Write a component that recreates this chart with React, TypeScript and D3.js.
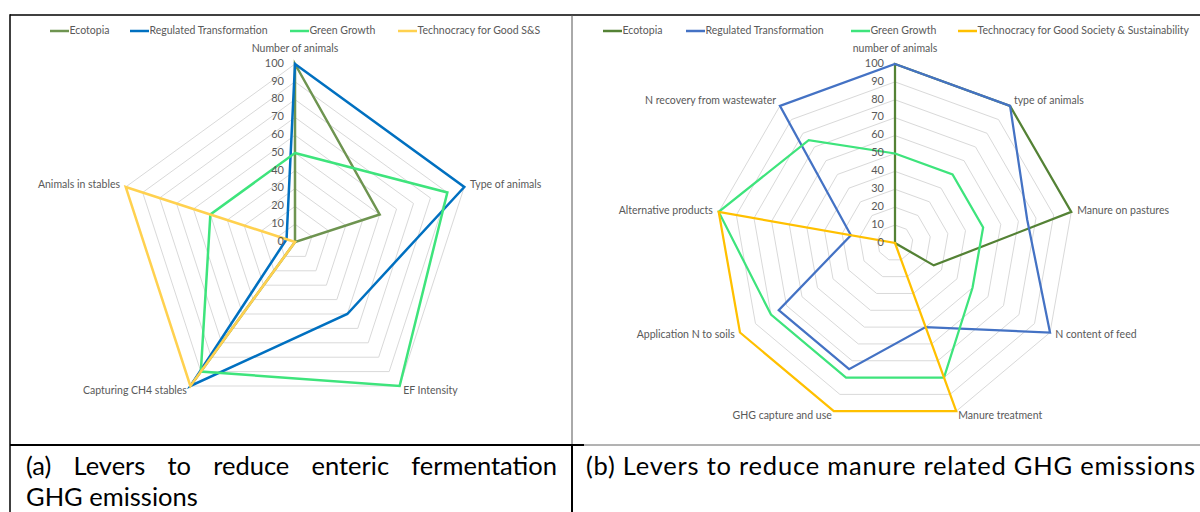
import React, { useLayoutEffect, useRef, useState } from "react";
import * as d3 from "d3";

// ---------- data ----------
const seriesNames = ["Ecotopia", "Regulated Transformation", "Green Growth"];
const techNameA = "Technocracy for Good S&S";
const techNameB = "Technocracy for Good Society & Sustainability";

const categoriesA = [
  "Number of animals",
  "Type of animals",
  "EF Intensity",
  "Capturing CH4 stables",
  "Animals in stables",
];
const ecotopiaA = [100, 50, 0, 100, 0];
const regulatedA = [100, 100, 50, 100, 5];
const greenA = [50, 90, 100, 90, 50];
const technoA = [0, 0, 0, 100, 100];

const categoriesB = [
  "number of animals",
  "type of animals",
  "Manure on pastures",
  "N content of feed",
  "Manure treatment",
  "GHG capture and use",
  "Application N to soils",
  "Alternative products",
  "N recovery from wastewater",
];
const ecotopiaB = [100, 100, 100, 25, 0, 0, 0, 0, 0];
const regulatedB = [100, 100, 75, 100, 50, 75, 75, 25, 100];
const greenB = [50, 50, 50, 50, 80, 80, 80, 100, 75];
const technoB = [0, 0, 0, 0, 100, 100, 100, 100, 0];

const tickValues = [0, 10, 20, 30, 40, 50, 60, 70, 80, 90, 100];

const captionA1 = "(a) Levers to reduce enteric fermentation";
const captionA2 = "GHG emissions";
const captionB = "(b) Levers to reduce manure related GHG emissions";

const FONT = "Lato, 'Noto Sans', sans-serif";
const TEXT = "#595959";
const GRID = "#D9D9D9";

type Series = { name: string; values: number[]; color: string; width: number };

function Radar(props: {
  cx: number;
  cy: number;
  R: number;
  categories: string[];
  series: Series[];
  legendX: number[];
  legendY: number;
}) {
  const { cx, cy, R, categories, series, legendX, legendY } = props;
  const n = categories.length;
  const r = d3.scaleLinear().domain([0, 100]).range([0, R]);
  const angle = d3
    .scaleLinear()
    .domain([0, n])
    .range([0, 2 * Math.PI]);
  const line = d3
    .lineRadial<number>()
    .angle((_, i) => angle(i))
    .radius((v) => r(v))
    .curve(d3.curveLinearClosed);

  return (
    <g fontFamily={FONT}>
      <g transform={`translate(${cx},${cy})`}>
        {tickValues.slice(1).map((t) => (
          <path
            key={t}
            d={line(categories.map(() => t)) || ""}
            fill="none"
            stroke={GRID}
            strokeWidth={1}
          />
        ))}
        {series.map((s) => (
          <path
            key={s.name}
            d={line(s.values) || ""}
            fill="none"
            stroke={s.color}
            strokeWidth={s.width}
            strokeLinejoin="miter"
          />
        ))}
        {tickValues.map((t) => (
          <text
            key={t}
            x={-11}
            y={-r(t)}
            textAnchor="end"
            dominantBaseline="middle"
            fontSize={11}
            fill={TEXT}
          >
            {t}
          </text>
        ))}
        {categories.map((c, i) => {
          const a = angle(i);
          const s = Math.sin(a);
          const co = Math.cos(a);
          const lr = R + 6;
          const x = lr * s;
          let y = -lr * co;
          let anchor = "middle";
          if (s > 0.05) anchor = "start";
          else if (s < -0.05) anchor = "end";
          if (co > 0.99) y = -R - 15;
          return (
            <text
              key={c}
              x={x}
              y={y}
              textAnchor={anchor}
              dominantBaseline="middle"
              fontSize={10.5}
              fill={TEXT}
            >
              {c}
            </text>
          );
        })}
      </g>
      {series.map((s, i) => (
        <g key={s.name} transform={`translate(${legendX[i]},${legendY})`}>
          <line x1={0} x2={19} y1={0} y2={0} stroke={s.color} strokeWidth={2.5} />
          <text x={19.5} y={0} dominantBaseline="middle" fontSize={10.5} fill={TEXT}>
            {s.name}
          </text>
        </g>
      ))}
    </g>
  );
}

function JustifiedText(props: { x: number; y: number; width: number; text: string }) {
  const ref = useRef<SVGTextElement>(null);
  const [ws, setWs] = useState(0);
  useLayoutEffect(() => {
    const el = ref.current;
    if (!el) return;
    el.setAttribute("word-spacing", "0");
    const w = el.getComputedTextLength();
    const gaps = props.text.split(" ").length - 1;
    if (gaps > 0) setWs(Math.max(0, (props.width - w) / gaps));
  }, [props.text, props.width]);
  return (
    <text ref={ref} x={props.x} y={props.y} wordSpacing={ws}>
      {props.text}
    </text>
  );
}

export default function App() {
  const seriesA: Series[] = [
    { name: seriesNames[0], values: ecotopiaA, color: "#6E9450", width: 2.5 },
    { name: seriesNames[1], values: regulatedA, color: "#0070C0", width: 2.5 },
    { name: seriesNames[2], values: greenA, color: "#3EE47C", width: 2.5 },
    { name: techNameA, values: technoA, color: "#FFD14F", width: 2.5 },
  ];
  const seriesB: Series[] = [
    { name: seriesNames[0], values: ecotopiaB, color: "#548235", width: 2.25 },
    { name: seriesNames[1], values: regulatedB, color: "#4472C4", width: 2.25 },
    { name: seriesNames[2], values: greenB, color: "#3EE47C", width: 2.25 },
    { name: techNameB, values: technoB, color: "#FFC000", width: 2.25 },
  ];

  return (
    <svg
      width={1200}
      height={512}
      style={{ position: "absolute", left: 0, top: 0, background: "#fff" }}
    >
      <rect x={0} y={0} width={1200} height={512} fill="#fff" />
      <Radar
        cx={295}
        cy={242}
        R={178}
        categories={categoriesA}
        series={seriesA}
        legendX={[50, 130, 290, 398]}
        legendY={31}
      />
      <Radar
        cx={895}
        cy={243}
        R={179}
        categories={categoriesB}
        series={seriesB}
        legendX={[603, 686, 851, 958]}
        legendY={31}
      />
      {/* table borders */}
      <line x1={10} x2={1200} y1={15} y2={15} stroke="#000" strokeWidth={1.5} />
      <line x1={10} x2={10} y1={14.25} y2={512} stroke="#000" strokeWidth={1.5} />
      <line x1={572} x2={572} y1={15} y2={445} stroke="#555" strokeWidth={1} />
      <line x1={572} x2={572} y1={445} y2={512} stroke="#000" strokeWidth={2} />
      <line x1={10} x2={584} y1={445} y2={445} stroke="#000" strokeWidth={2} />
      <line x1={584} x2={1200} y1={445} y2={445} stroke="#666" strokeWidth={1} />
      {/* captions */}
      <g fontFamily={FONT} fontSize={25.5} fill="#000">
        <JustifiedText x={26} y={475} width={531} text={captionA1} />
        <text x={26} y={506}>
          {captionA2}
        </text>
        <text x={586} y={475} textLength={609} lengthAdjust="spacing">
          {captionB}
        </text>
      </g>
    </svg>
  );
}
